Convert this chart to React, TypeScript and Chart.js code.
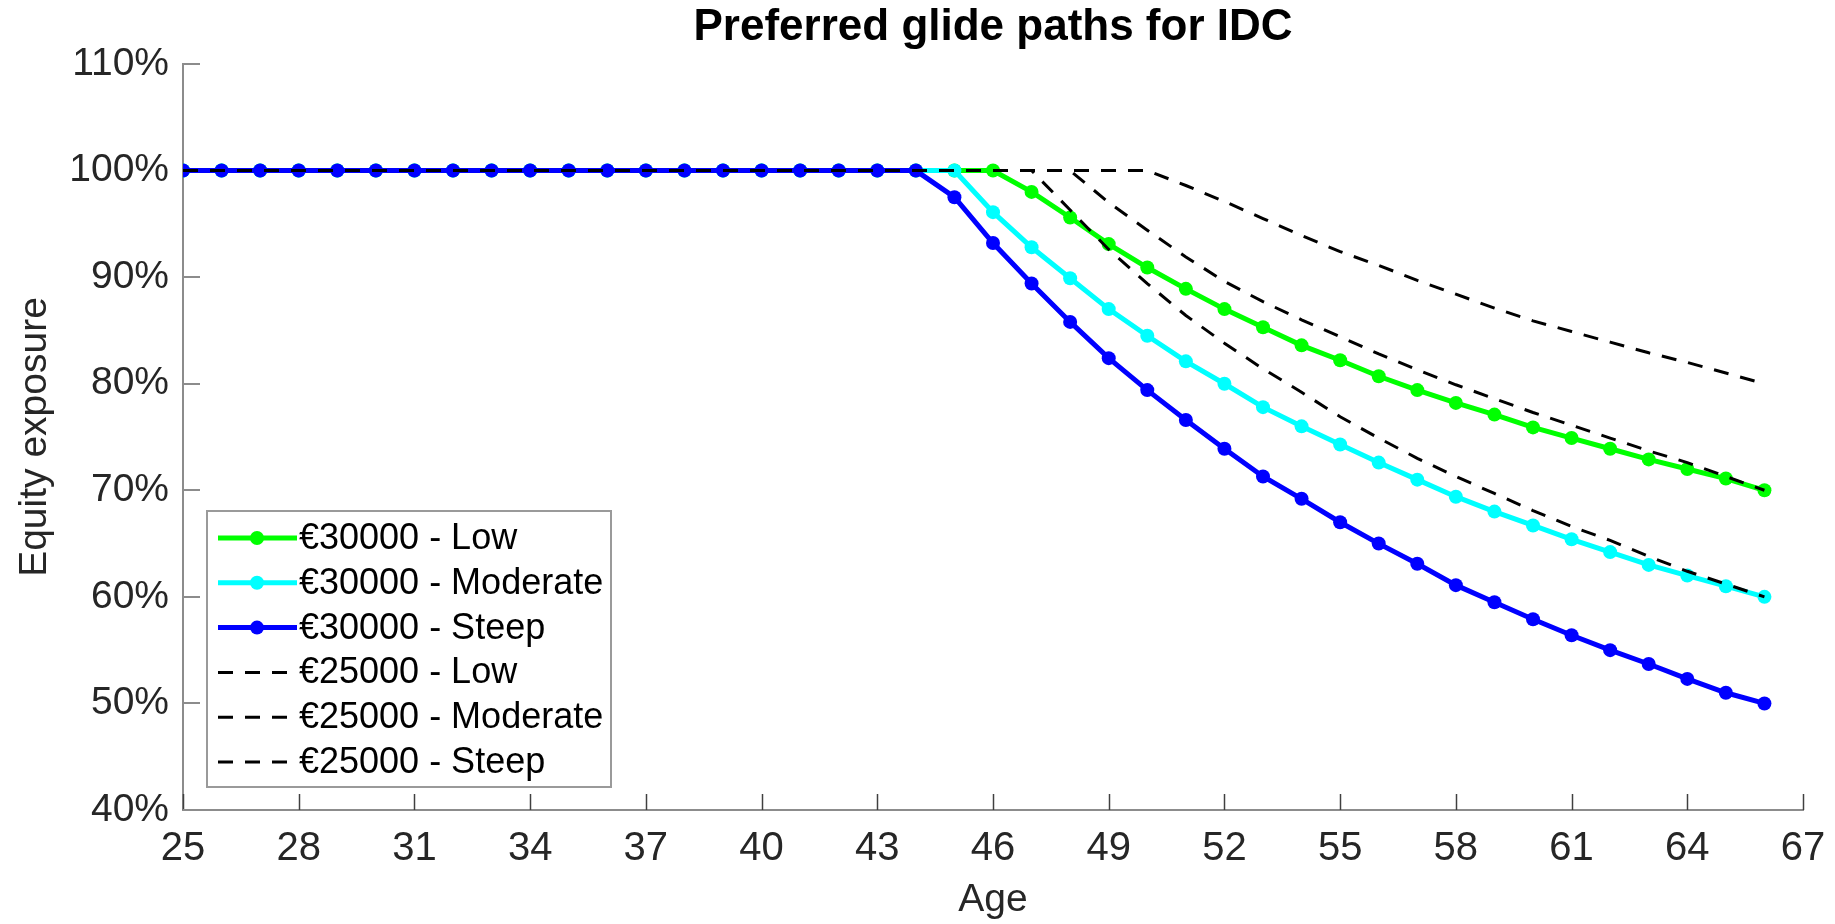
import React, { useEffect, useRef } from 'react';
import { Chart, registerables } from 'chart.js';

Chart.register(...registerables);

const TITLE = 'Preferred glide paths for IDC';
const X_LABEL = 'Age';
const Y_LABEL = 'Equity exposure';

const AGES = [25, 26, 27, 28, 29, 30, 31, 32, 33, 34, 35, 36, 37, 38, 39, 40, 41, 42, 43, 44, 45, 46, 47, 48, 49, 50, 51, 52, 53, 54, 55, 56, 57, 58, 59, 60, 61, 62, 63, 64, 65, 66];

const LOW_30000 = [100, 100, 100, 100, 100, 100, 100, 100, 100, 100, 100, 100, 100, 100, 100, 100, 100, 100, 100, 100, 100, 100,
  98.0, 95.6, 93.1, 90.9, 88.9, 87.0, 85.3, 83.6, 82.2, 80.7, 79.4, 78.2, 77.1, 75.9, 74.9, 73.9, 72.9, 72.0, 71.1, 70.0];
const MODERATE_30000 = [100, 100, 100, 100, 100, 100, 100, 100, 100, 100, 100, 100, 100, 100, 100, 100, 100, 100, 100, 100, 100,
  96.1, 92.8, 89.9, 87.0, 84.5, 82.1, 80.0, 77.8, 76.0, 74.3, 72.6, 71.0, 69.4, 68.0, 66.7, 65.4, 64.2, 63.0, 62.0, 61.0, 60.0];
const STEEP_30000 = [100, 100, 100, 100, 100, 100, 100, 100, 100, 100, 100, 100, 100, 100, 100, 100, 100, 100, 100, 100,
  97.5, 93.2, 89.4, 85.8, 82.4, 79.4, 76.6, 73.9, 71.3, 69.2, 67.0, 65.0, 63.1, 61.1, 59.5, 57.9, 56.4, 55.0, 53.7, 52.3, 51.0, 50.0];
const LOW_25000 = [100, 100, 100, 100, 100, 100, 100, 100, 100, 100, 100, 100, 100, 100, 100, 100, 100, 100, 100, 100, 100, 100, 100, 100, 100, 100,
  98.6, 97.1, 95.5, 93.9, 92.4, 91.1, 89.7, 88.4, 87.1, 85.9, 84.9, 83.9, 82.9, 82.0, 81.0, 80.0];
const MODERATE_25000 = [100, 100, 100, 100, 100, 100, 100, 100, 100, 100, 100, 100, 100, 100, 100, 100, 100, 100, 100, 100, 100, 100, 100, 100,
  97.0, 94.4, 91.9, 89.6, 87.7, 86.0, 84.4, 82.8, 81.3, 79.9, 78.6, 77.3, 76.1, 74.9, 73.7, 72.6, 71.3, 70.0];
const STEEP_25000 = [100, 100, 100, 100, 100, 100, 100, 100, 100, 100, 100, 100, 100, 100, 100, 100, 100, 100, 100, 100, 100, 100, 100,
  96.3, 92.6, 89.4, 86.4, 83.8, 81.4, 79.2, 76.9, 74.9, 73.0, 71.3, 69.7, 68.1, 66.6, 65.3, 63.8, 62.4, 61.2, 60.0];

const SERIES_LABELS = ['€30000 - Low', '€30000 - Moderate', '€30000 - Steep', '€25000 - Low', '€25000 - Moderate', '€25000 - Steep'];

const Y_MIN = 40;
const Y_MAX = 110;
const Y_STEP = 10;
const X_MIN = 25;
const X_MAX = 67;
const X_STEP = 3;

const FONT = '"Liberation Sans", Arial, Helvetica, sans-serif';

const toPoints = (vals: number[]) => AGES.map((a, i) => ({ x: a, y: vals[i] }));

const titlePlugin = {
  id: 'matlabTitle',
  afterDraw(chart: any) {
    const { ctx, chartArea } = chart;
    ctx.save();
    ctx.font = `bold 44px ${FONT}`;
    ctx.fillStyle = '#000';
    ctx.textAlign = 'center';
    ctx.textBaseline = 'middle';
    ctx.fillText(TITLE, (chartArea.left + chartArea.right) / 2, 28);
    ctx.restore();
  },
};

const inwardTicks = {
  id: 'inwardTicks',
  beforeDatasetsDraw(chart: any) {
    const { ctx, chartArea, scales } = chart;
    const xs = scales.x;
    const ys = scales.y;
    ctx.save();
    ctx.lineWidth = 1.5;
    ctx.strokeStyle = '#404040';
    xs.ticks.forEach((t: any) => {
      const px = Math.round(xs.getPixelForValue(t.value)) + 0.5;
      ctx.beginPath();
      ctx.moveTo(px, chartArea.bottom);
      ctx.lineTo(px, chartArea.bottom - 16);
      ctx.stroke();
    });
    ctx.lineWidth = 2;
    ctx.strokeStyle = '#8c8c8c';
    ys.ticks.forEach((t: any) => {
      const py = Math.round(ys.getPixelForValue(t.value));
      ctx.beginPath();
      ctx.moveTo(chartArea.left, py);
      ctx.lineTo(chartArea.left + 17, py);
      ctx.stroke();
    });
    ctx.restore();
  },
};

const legendPlugin = {
  id: 'insideLegend',
  afterDraw(chart: any) {
    const { ctx, chartArea } = chart;
    const left = chartArea.left + 24;
    const top = chartArea.bottom - 299;
    const w = 404;
    const h = 276;
    ctx.save();
    ctx.fillStyle = '#fff';
    ctx.fillRect(left, top, w, h);
    ctx.lineWidth = 2;
    ctx.strokeStyle = '#9a9a9a';
    ctx.strokeRect(left, top, w, h);
    chart.data.datasets.forEach((ds: any, i: number) => {
      const cy = top + 27 + i * 44.8;
      ctx.save();
      ctx.strokeStyle = ds.borderColor;
      ctx.lineWidth = ds.borderWidth;
      ctx.setLineDash(ds.borderDash || []);
      ctx.beginPath();
      ctx.moveTo(left + 11, cy);
      ctx.lineTo(left + 90, cy);
      ctx.stroke();
      ctx.restore();
      if (ds.pointRadius > 0) {
        ctx.fillStyle = ds.pointBackgroundColor;
        ctx.beginPath();
        ctx.arc(left + 50, cy, ds.pointRadius, 0, Math.PI * 2);
        ctx.fill();
      }
      ctx.fillStyle = '#000';
      ctx.font = `36px ${FONT}`;
      ctx.textAlign = 'left';
      ctx.textBaseline = 'middle';
      ctx.fillText(ds.label, left + 92, cy + 1);
    });
    ctx.restore();
  },
};

export default function App() {
  const canvasRef = useRef<HTMLCanvasElement | null>(null);

  useEffect(() => {
    document.body.style.margin = '0';
    const canvas = canvasRef.current;
    if (!canvas) return;

    const solid = (label: string, vals: number[], color: string, order: number) => ({
      label,
      data: toPoints(vals),
      borderColor: color,
      backgroundColor: color,
      pointBackgroundColor: color,
      pointBorderColor: color,
      borderWidth: 5,
      pointRadius: 7,
      pointBorderWidth: 0,
      pointHoverRadius: 7,
      tension: 0,
      fill: false,
      order,
    });
    const dashed = (label: string, vals: number[], order: number) => ({
      label,
      data: toPoints(vals),
      borderColor: '#000',
      backgroundColor: '#000',
      borderWidth: 3,
      borderDash: [15, 12],
      pointRadius: 0,
      tension: 0,
      fill: false,
      order,
    });

    const chart = new Chart(canvas, {
      type: 'line',
      data: {
        datasets: [
          solid(SERIES_LABELS[0], LOW_30000, '#00ff00', 6),
          solid(SERIES_LABELS[1], MODERATE_30000, '#00ffff', 5),
          solid(SERIES_LABELS[2], STEEP_30000, '#0000ff', 4),
          dashed(SERIES_LABELS[3], LOW_25000, 3),
          dashed(SERIES_LABELS[4], MODERATE_25000, 2),
          dashed(SERIES_LABELS[5], STEEP_25000, 1),
        ] as any,
      },
      options: {
        responsive: false,
        animation: false,
        devicePixelRatio: 1,
        layout: { padding: { top: 64, right: 32, bottom: 0, left: 0 } },
        plugins: {
          legend: { display: false },
          title: { display: false },
          tooltip: { enabled: false },
        },
        scales: {
          x: {
            type: 'linear',
            min: X_MIN,
            max: X_MAX,
            afterFit: (s: any) => { s.height = 114; },
            ticks: {
              stepSize: X_STEP,
              padding: 7,
              color: '#262626',
              font: { family: FONT, size: 40 },
              maxRotation: 0,
              autoSkip: false,
            },
            grid: { display: false },
            border: { display: true, color: '#8c8c8c', width: 2 },
            title: {
              display: true,
              text: X_LABEL,
              color: '#262626',
              font: { family: FONT, size: 39 },
              padding: { top: 0, bottom: 0 },
            },
          },
          y: {
            type: 'linear',
            min: Y_MIN,
            max: Y_MAX,
            afterFit: (s: any) => { s.width = 183; },
            ticks: {
              stepSize: Y_STEP,
              padding: 6,
              color: '#262626',
              font: { family: FONT, size: 39 },
              callback: (v: any) => `${v}%`,
            },
            grid: { display: false },
            border: { display: true, color: '#8c8c8c', width: 2 },
            title: {
              display: true,
              text: Y_LABEL,
              color: '#262626',
              font: { family: FONT, size: 39 },
              padding: { top: 12, bottom: 0 },
            },
          },
        },
      } as any,
      plugins: [titlePlugin, inwardTicks, legendPlugin],
    });

    return () => chart.destroy();
  }, []);

  return (
    <div style={{ width: 1835, height: 924, background: '#fff' }}>
      <canvas ref={canvasRef} width={1835} height={924} style={{ display: 'block' }} />
    </div>
  );
}
